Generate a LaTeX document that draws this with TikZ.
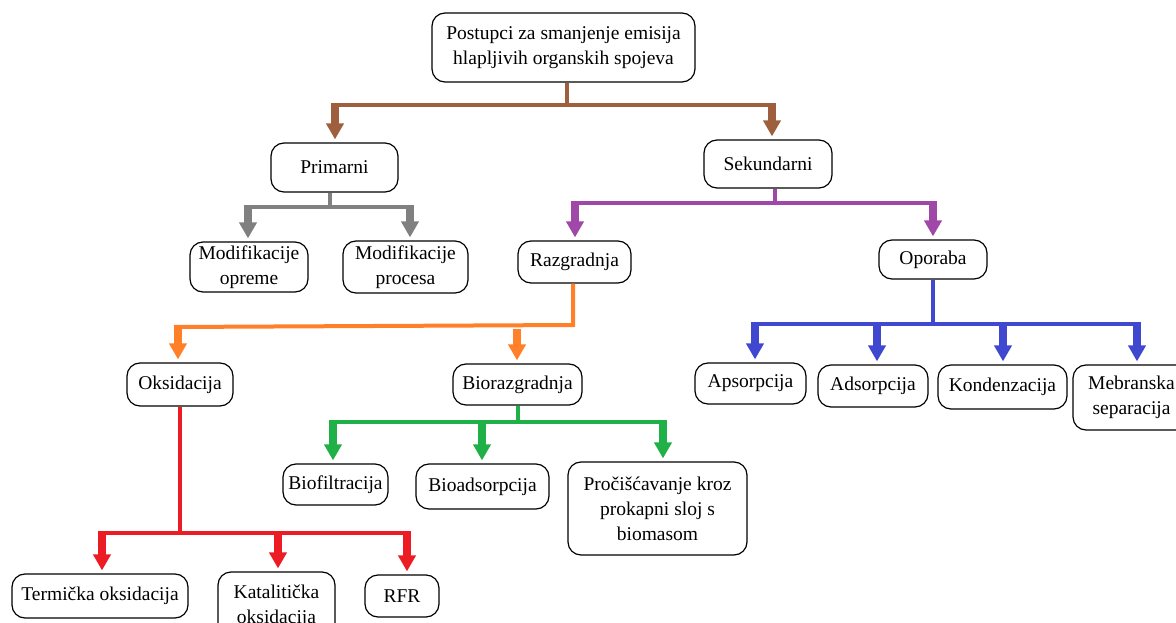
\documentclass[tikz,border=0pt]{standalone}
\usepackage{fontspec}
\setmainfont{Liberation Serif}
\usetikzlibrary{arrows.meta}
\definecolor{cbrown}{RGB}{158,95,62}
\definecolor{cgray}{RGB}{128,128,128}
\definecolor{cpurple}{RGB}{160,72,168}
\definecolor{corange}{RGB}{255,128,40}
\definecolor{cblue}{RGB}{64,72,208}
\definecolor{cgreen}{RGB}{32,176,72}
\definecolor{cred}{RGB}{236,28,36}
\tikzset{
  box/.style={draw=black, line width=1.2pt, rounded corners=13pt, align=center,
    inner sep=0pt, font=\fontsize{19.5}{25}\selectfont},
  trunk/.style={line width=4pt},
  drop/.style={line width=8pt, -{Triangle[width=17pt,length=16pt]}, shorten >=3pt},
}
\begin{document}
\begin{tikzpicture}[x=1pt,y=-1pt]
\useasboundingbox (0,0) rectangle (1176,623);
\clip (0,0) rectangle (1176,623);
% boxes
\node[box, minimum width=263pt, minimum height=69pt] (top) at (563.5,47.5) {Postupci za smanjenje emisija\\hlapljivih organskih spojeva};
\node[box, minimum width=127pt, minimum height=49pt] (prim) at (334.5,167.5) {Primarni};
\node[box, minimum width=128pt, minimum height=48pt] (sek) at (768,164) {Sekundarni};
\node[box, minimum width=118pt, minimum height=50pt] (mopr) at (249,267) {Modifikacije\\opreme};
\node[box, minimum width=125pt, minimum height=52pt] (mproc) at (405.5,267) {Modifikacije\\procesa};
\node[box, minimum width=113pt, minimum height=42pt] (razg) at (574.5,262) {Razgradnja};
\node[box, minimum width=108pt, minimum height=39pt] (opor) at (933,259.5) {Oporaba};
\node[box, minimum width=106pt, minimum height=43pt] (oks) at (180,384.5) {Oksidacija};
\node[box, minimum width=129pt, minimum height=41pt] (bior) at (517.5,384.5) {Biorazgradnja};
\node[box, minimum width=111pt, minimum height=41pt] (aps) at (750.5,383.5) {Apsorpcija};
\node[box, minimum width=110pt, minimum height=42pt] (ads) at (873,386) {Adsorpcija};
\node[box, minimum width=129pt, minimum height=44pt] (kond) at (1002.5,387) {Kondenzacija};
\node[box, minimum width=117pt, minimum height=65pt] (meb) at (1131.5,397.5) {Mebranska\\separacija};
\node[box, minimum width=105pt, minimum height=41pt] (biof) at (335.5,484.5) {Biofiltracija};
\node[box, minimum width=133pt, minimum height=45pt] (bioa) at (482.5,486.5) {Bioadsorpcija};
\node[box, minimum width=179pt, minimum height=93pt] (proc) at (657.5,508.5) {Pročišćavanje kroz\\prokapni sloj s\\biomasom};
\node[box, minimum width=176pt, minimum height=44pt] (term) at (100,596) {Termička oksidacija};
\node[box, minimum width=117pt, minimum height=68pt] (kat) at (276.5,606) {Katalitička\\oksidacija};
\node[box, minimum width=74pt, minimum height=42pt] (rfr) at (402,596) {RFR};
% brown
\coordinate (bs) at (567,105);
\coordinate (bl) at (335,105);
\coordinate (br) at (772,105);
\draw[cbrown, trunk] (top.south -| bs) -- (bs);
\draw[cbrown, trunk] ([xshift=-4pt]bl) -- ([xshift=4pt]br);
\draw[cbrown, drop] ([yshift=-2pt]bl) -- (bl |- prim.north);
\draw[cbrown, drop] ([yshift=-2pt]br) -- (br |- sek.north);
% gray
\coordinate (gs) at (330,207);
\coordinate (gl) at (248,207);
\coordinate (gr) at (410,207);
\draw[cgray, trunk] (prim.south -| gs) -- (gs);
\draw[cgray, trunk] ([xshift=-4pt]gl) -- ([xshift=4pt]gr);
\draw[cgray, drop] ([yshift=-2pt]gl) -- (gl |- mopr.north);
\draw[cgray, drop] ([yshift=-2pt]gr) -- (gr |- mproc.north);
% purple
\coordinate (ps) at (775,203);
\coordinate (pl) at (575,203);
\coordinate (pr) at (933,203);
\draw[cpurple, trunk] (sek.south -| ps) -- (ps);
\draw[cpurple, trunk] ([xshift=-4pt]pl) -- ([xshift=4pt]pr);
\draw[cpurple, drop] ([yshift=-2pt]pl) -- (pl |- razg.north);
\draw[cpurple, drop] ([yshift=-2pt]pr) -- (pr |- opor.north);
% orange
\coordinate (os) at (573,327);
\coordinate (ol) at (178,327);
\coordinate (or) at (517,327);
\draw[corange, trunk] (razg.south -| os) -- ([yshift=2pt]os) -- ([xshift=-4pt]ol);
\draw[corange, drop] ([yshift=-2pt]ol) -- (ol |- oks.north);
\draw[corange, drop] ([yshift=-2pt]or) -- (or |- bior.north);
% blue
\coordinate (us) at (933,324);
\coordinate (u1) at (755,324);
\coordinate (u2) at (877,324);
\coordinate (u3) at (1003,324);
\coordinate (u4) at (1137,324);
\draw[cblue, trunk] (opor.south -| us) -- (us);
\draw[cblue, trunk] ([xshift=-4pt]u1) -- ([xshift=4pt]u4);
\draw[cblue, drop] ([yshift=-2pt]u1) -- (u1 |- aps.north);
\draw[cblue, drop] ([yshift=-2pt]u2) -- (u2 |- ads.north);
\draw[cblue, drop] ([yshift=-2pt]u3) -- (u3 |- kond.north);
\draw[cblue, drop] ([yshift=-2pt]u4) -- (u4 |- meb.north);
% green
\coordinate (es) at (518,422);
\coordinate (e1) at (333,422);
\coordinate (e2) at (482,422);
\coordinate (e3) at (663,422);
\draw[cgreen, trunk] (bior.south -| es) -- (es);
\draw[cgreen, trunk] ([xshift=-4pt]e1) -- ([xshift=4pt]e3);
\draw[cgreen, drop] ([yshift=-2pt]e1) -- (e1 |- biof.north);
\draw[cgreen, drop] ([yshift=-2pt]e2) -- (e2 |- bioa.north);
\draw[cgreen, drop] ([yshift=-2pt]e3) -- (e3 |- proc.north);
% red
\coordinate (rs) at (180,533);
\coordinate (r1) at (102,533);
\coordinate (r2) at (278,533);
\coordinate (r3) at (407,533);
\draw[cred, trunk] (oks.south -| rs) -- (rs);
\draw[cred, trunk] ([xshift=-4pt]r1) -- ([xshift=4pt]r3);
\draw[cred, drop] ([yshift=-2pt]r1) -- (r1 |- term.north);
\draw[cred, drop] ([yshift=-2pt]r2) -- (r2 |- kat.north);
\draw[cred, drop] ([yshift=-2pt]r3) -- (r3 |- rfr.north);
\end{tikzpicture}
\end{document}
